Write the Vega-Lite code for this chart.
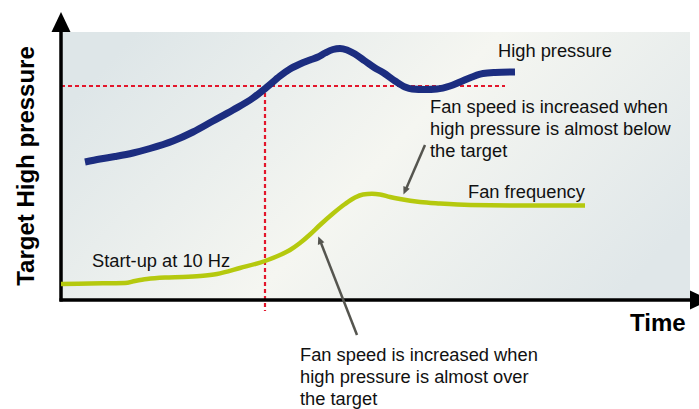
{
  "$schema": "https://vega.github.io/schema/vega-lite/v6.json",
  "width": 699,
  "height": 409,
  "padding": 0,
  "autosize": {"type": "none"},
  "background": "white",
  "config": {"view": {"stroke": null}, "text": {"font": "Liberation Sans"}},
  "datasets": {
    "box": [{"x": 61, "x2": 690, "y": 32, "y2": 300}],
    "target": [
      {"x": 61, "y": 86, "x2": 505, "y2": 86},
      {"x": 265, "y": 86, "x2": 265, "y2": 311}
    ],
    "axes": [
      {"x": 61, "y": 22, "x2": 61, "y2": 301.5},
      {"x": 59.5, "y": 300, "x2": 692, "y2": 300}
    ],
    "axisHeads": [
      {"x": 61, "y": 22, "angle": 0},
      {"x": 700, "y": 300, "angle": 90}
    ],
    "pressure": [
      {"t": 85, "v": 162}, {"t": 100, "v": 159}, {"t": 115, "v": 156.5}, {"t": 133, "v": 153},
      {"t": 150, "v": 148.5}, {"t": 173, "v": 141}, {"t": 193, "v": 132}, {"t": 213, "v": 121},
      {"t": 233, "v": 110}, {"t": 253, "v": 98}, {"t": 267, "v": 87}, {"t": 280, "v": 76},
      {"t": 290, "v": 69}, {"t": 300, "v": 64}, {"t": 310, "v": 60}, {"t": 318, "v": 57},
      {"t": 325, "v": 53}, {"t": 333, "v": 49.5}, {"t": 340, "v": 48.5}, {"t": 347, "v": 50},
      {"t": 355, "v": 54}, {"t": 365, "v": 61}, {"t": 375, "v": 68}, {"t": 383, "v": 72.5},
      {"t": 395, "v": 81}, {"t": 405, "v": 87}, {"t": 412, "v": 89}, {"t": 425, "v": 89.5},
      {"t": 437, "v": 89}, {"t": 450, "v": 86}, {"t": 460, "v": 82}, {"t": 472, "v": 77},
      {"t": 483, "v": 73.5}, {"t": 495, "v": 72.5}, {"t": 515, "v": 72}
    ],
    "fan": [
      {"t": 61, "v": 284}, {"t": 90, "v": 283.5}, {"t": 125, "v": 283}, {"t": 135, "v": 281},
      {"t": 147, "v": 279}, {"t": 165, "v": 277.5}, {"t": 183, "v": 277}, {"t": 200, "v": 276},
      {"t": 217, "v": 274}, {"t": 240, "v": 268}, {"t": 265, "v": 261}, {"t": 280, "v": 255},
      {"t": 290, "v": 250}, {"t": 300, "v": 243}, {"t": 310, "v": 234.5}, {"t": 320, "v": 225},
      {"t": 333, "v": 213.5}, {"t": 345, "v": 204}, {"t": 355, "v": 197.5}, {"t": 363, "v": 194.5},
      {"t": 372, "v": 193.8}, {"t": 380, "v": 194.5}, {"t": 390, "v": 197}, {"t": 400, "v": 199},
      {"t": 420, "v": 202}, {"t": 440, "v": 203.5}, {"t": 470, "v": 205}, {"t": 520, "v": 205.5},
      {"t": 585, "v": 205.5}
    ],
    "arrows": [
      {"x": 357, "y": 335, "x2": 321, "y2": 243},
      {"x": 425, "y": 145, "x2": 406, "y2": 189}
    ],
    "arrowHeads": [
      {"x": 319.7, "y": 240, "angle": 338.6},
      {"x": 405, "y": 191, "angle": 203.5}
    ],
    "labels": [
      {"x": 498, "y": 57, "text": "High pressure"},
      {"x": 430, "y": 113, "text": "Fan speed is increased when\nhigh pressure is almost below\nthe target"},
      {"x": 468, "y": 198, "text": "Fan frequency"},
      {"x": 92, "y": 267, "text": "Start-up at 10 Hz"},
      {"x": 300, "y": 361, "text": "Fan speed is increased when\nhigh pressure is almost over\nthe target"}
    ],
    "xTitle": [{"x": 630, "y": 331, "text": "Time"}],
    "yTitle": [{"x": 34, "y": 166, "text": "Target High pressure"}]
  },
  "layer": [
    {
      "data": {"name": "box"},
      "mark": {"type": "rect", "fill": {"gradient": "linear", "x1": 0, "y1": 0.3, "x2": 1, "y2": 0.7, "stops": [
        {"offset": 0, "color": "#dee6e8"},
        {"offset": 0.5, "color": "#f5f6f1"},
        {"offset": 1, "color": "#e0e7e9"}
      ]}},
      "encoding": {
        "x": {"field": "x", "type": "quantitative", "scale": {"domain": [0, 699], "nice": false, "zero": false}, "axis": null},
        "x2": {"field": "x2"},
        "y": {"field": "y", "type": "quantitative", "scale": {"domain": [0, 409], "nice": false, "zero": false, "reverse": true}, "axis": null},
        "y2": {"field": "y2"}
      }
    },
    {
      "data": {"name": "target"},
      "mark": {"type": "rule", "color": "#e3162b", "strokeWidth": 2.2, "strokeDash": [4, 3]},
      "encoding": {
        "x": {"field": "x", "type": "quantitative"},
        "x2": {"field": "x2"},
        "y": {"field": "y", "type": "quantitative"},
        "y2": {"field": "y2"}
      }
    },
    {
      "data": {"name": "axes"},
      "mark": {"type": "rule", "color": "#000000", "strokeWidth": 3.5},
      "encoding": {
        "x": {"field": "x", "type": "quantitative"},
        "x2": {"field": "x2"},
        "y": {"field": "y", "type": "quantitative"},
        "y2": {"field": "y2"}
      }
    },
    {
      "data": {"name": "axisHeads"},
      "mark": {"type": "point", "shape": "M0,-1L0.95,1L-0.95,1Z", "filled": true, "color": "#000000", "opacity": 1, "size": 400},
      "encoding": {
        "x": {"field": "x", "type": "quantitative"},
        "y": {"field": "y", "type": "quantitative"},
        "angle": {"field": "angle", "type": "quantitative", "scale": null}
      }
    },
    {
      "data": {"name": "pressure"},
      "mark": {"type": "line", "color": "#1c2d80", "strokeWidth": 7, "interpolate": "monotone"},
      "encoding": {
        "x": {"field": "t", "type": "quantitative"},
        "y": {"field": "v", "type": "quantitative"}
      }
    },
    {
      "data": {"name": "fan"},
      "mark": {"type": "line", "color": "#b5c90e", "strokeWidth": 4.5, "interpolate": "monotone"},
      "encoding": {
        "x": {"field": "t", "type": "quantitative"},
        "y": {"field": "v", "type": "quantitative"}
      }
    },
    {
      "data": {"name": "arrows"},
      "mark": {"type": "rule", "color": "#55554f", "strokeWidth": 2.5},
      "encoding": {
        "x": {"field": "x", "type": "quantitative"},
        "x2": {"field": "x2"},
        "y": {"field": "y", "type": "quantitative"},
        "y2": {"field": "y2"}
      }
    },
    {
      "data": {"name": "arrowHeads"},
      "mark": {"type": "point", "shape": "M0,-1L0.9,1L-0.9,1Z", "filled": true, "color": "#55554f", "opacity": 1, "size": 60},
      "encoding": {
        "x": {"field": "x", "type": "quantitative"},
        "y": {"field": "y", "type": "quantitative"},
        "angle": {"field": "angle", "type": "quantitative", "scale": null}
      }
    },
    {
      "data": {"name": "labels"},
      "mark": {"type": "text", "fontSize": 18.3, "align": "left", "baseline": "alphabetic", "lineBreak": "\n", "lineHeight": 21.8, "color": "#111111"},
      "encoding": {
        "x": {"field": "x", "type": "quantitative"},
        "y": {"field": "y", "type": "quantitative"},
        "text": {"field": "text"}
      }
    },
    {
      "data": {"name": "xTitle"},
      "mark": {"type": "text", "fontSize": 24, "fontWeight": "bold", "align": "left", "baseline": "alphabetic", "color": "#000000"},
      "encoding": {
        "x": {"field": "x", "type": "quantitative"},
        "y": {"field": "y", "type": "quantitative"},
        "text": {"field": "text"}
      }
    },
    {
      "data": {"name": "yTitle"},
      "mark": {"type": "text", "fontSize": 24, "fontWeight": "bold", "align": "center", "baseline": "alphabetic", "angle": 270, "color": "#000000"},
      "encoding": {
        "x": {"field": "x", "type": "quantitative"},
        "y": {"field": "y", "type": "quantitative"},
        "text": {"field": "text"}
      }
    }
  ]
}
